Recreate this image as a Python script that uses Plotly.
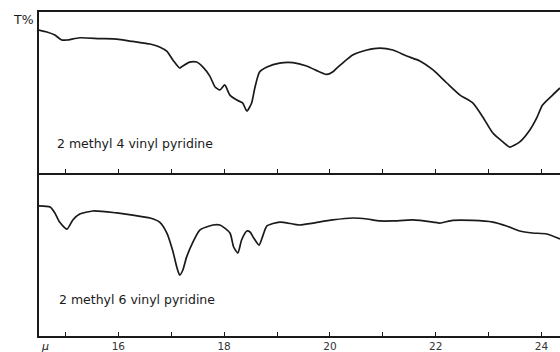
import plotly.graph_objects as go

# Wavelength (microns) and transmission (%)
wl_top = [14.50, 14.65, 14.80, 14.93, 15.03, 15.27, 15.65, 15.97, 16.27, 16.60, 16.78, 16.92,
          17.03, 17.16, 17.22, 17.35, 17.48, 17.60, 17.73, 17.83, 17.92, 18.01, 18.11, 18.24,
          18.35, 18.43, 18.52, 18.58, 18.67, 18.81, 19.05, 19.30, 19.56, 19.81, 19.94, 20.05,
          20.13, 20.24, 20.43, 20.70, 20.94, 21.19, 21.45, 21.70, 21.95, 22.21, 22.46, 22.70,
          22.89, 23.08, 23.27, 23.40, 23.59, 23.78, 23.91, 24.02, 24.21, 24.35]
t_top = [88.8, 87.6, 85.7, 82.6, 82.6, 84.0, 83.5, 83.2, 81.7, 80.1, 78.3, 75.5,
         70.2, 65.2, 66.5, 68.9, 68.9, 65.8, 60.2, 53.4, 51.6, 54.7, 48.4, 45.3,
         43.5, 38.5, 43.5, 52.8, 62.7, 65.8, 68.3, 68.6, 66.5, 62.7, 61.2, 62.7,
         65.2, 68.3, 73.3, 76.4, 77.6, 76.4, 72.7, 69.6, 64.0, 55.9, 48.4, 43.5,
         34.8, 24.8, 19.3, 16.1, 19.3, 26.7, 34.2, 42.2, 48.4, 52.8]

wl_bot = [14.50, 14.71, 14.80, 14.89, 15.03, 15.14, 15.27, 15.52, 15.97, 16.27, 16.60, 16.78,
          16.92, 17.03, 17.11, 17.16, 17.22, 17.29, 17.41, 17.54, 17.79, 17.92, 18.11, 18.18,
          18.26, 18.33, 18.43, 18.49, 18.56, 18.66, 18.73, 18.81, 19.05, 19.30, 19.43, 19.68,
          20.05, 20.43, 20.70, 20.94, 21.19, 21.57, 21.95, 22.08, 22.32, 22.70, 23.08, 23.34,
          23.59, 23.83, 24.10, 24.35]
t_bot = [79.8, 79.1, 75.5, 69.9, 65.6, 71.2, 74.8, 76.7, 75.5, 74.2, 72.4, 69.9,
         63.0, 52.1, 41.7, 37.4, 40.5, 48.4, 57.6, 65.0, 68.1, 68.1, 63.2, 54.6,
         50.9, 58.9, 64.4, 63.8, 60.1, 55.8, 61.3, 67.5, 69.9, 68.7, 68.1, 69.3,
         71.2, 72.4, 71.8, 70.6, 70.6, 71.2, 69.9, 69.3, 70.9, 70.9, 69.9, 67.5,
         64.4, 63.2, 62.6, 59.5]

tick_vals = [15, 16, 17, 18, 19, 20, 21, 22, 23, 24]
tick_text = ["", "16", "", "18", "", "20", "", "22", "", "24"]
label_top = "2 methyl 4 vinyl pyridine"
label_bot = "2 methyl 6 vinyl pyridine"

INK = "#1a1a1a"
fig = go.Figure()
fig.add_trace(go.Scatter(x=wl_top, y=t_top, xaxis="x2", yaxis="y2", mode="lines",
                         line=dict(color=INK, width=1.7, shape="spline", smoothing=0.6),
                         hoverinfo="skip", showlegend=False))
fig.add_trace(go.Scatter(x=wl_bot, y=t_bot, xaxis="x", yaxis="y", mode="lines",
                         line=dict(color=INK, width=1.7, shape="spline", smoothing=0.6),
                         hoverinfo="skip", showlegend=False))

xr = [14.5, 24.35]
split = 163 / 324
fig.update_layout(
    width=560, height=352,
    margin=dict(l=39, r=0, t=12, b=16),
    paper_bgcolor="white", plot_bgcolor="white",
    font=dict(family="DejaVu Sans", color=INK),
    xaxis=dict(domain=[0, 1], range=xr, anchor="y", showgrid=False, zeroline=False,
               showline=True, linecolor=INK, linewidth=1.5,
               ticks="inside", ticklen=4, tickwidth=1, tickcolor=INK,
               tickvals=tick_vals, ticktext=tick_text,
               tickfont=dict(size=10.5, color="#333"), automargin=False),
    yaxis=dict(domain=[0, split], range=[0, 100], showgrid=False, zeroline=False,
               showline=True, linecolor=INK, linewidth=1.5, showticklabels=False,
               ticks="", automargin=False),
    xaxis2=dict(domain=[0, 1], range=xr, anchor="y2", showgrid=False, zeroline=False,
                showline=True, linecolor=INK, linewidth=1.5, mirror=True,
                ticks="inside", ticklen=4, tickwidth=1, tickcolor=INK,
                tickvals=tick_vals, showticklabels=False, automargin=False),
    yaxis2=dict(domain=[split, 1], range=[0, 100], showgrid=False, zeroline=False,
                showline=True, linecolor=INK, linewidth=1.5, showticklabels=False,
                ticks="", automargin=False),
    annotations=[
        dict(text="T%", xref="paper", yref="paper", x=-0.006, y=0.978,
             xanchor="right", yanchor="middle",
             showarrow=False, font=dict(size=12.5, color=INK)),
        dict(text="<i>μ</i>", xref="paper", yref="paper", x=0.0, y=-0.005,
             xanchor="left", yanchor="top",
             showarrow=False, font=dict(size=11, color=INK)),
        dict(text=label_top, xref="x2", yref="y2", x=14.80, y=18.6, xanchor="left",
             showarrow=False, font=dict(size=12.5, color=INK)),
        dict(text=label_bot, xref="x", yref="y", x=14.84, y=22.1, xanchor="left",
             showarrow=False, font=dict(size=12.5, color=INK)),
    ],
)

fig.write_html("out.html",
               config={"displayModeBar": False},
               post_script="document.body.style.margin='0';"
                           "document.body.style.overflow='hidden';")
